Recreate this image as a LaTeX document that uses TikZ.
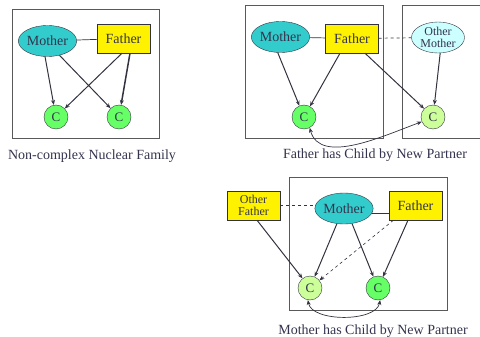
\documentclass[tikz,border=0pt]{standalone}
\usepackage{fontspec}
\setmainfont{Liberation Serif}
\usetikzlibrary{shapes.geometric,arrows.meta}

\definecolor{inkline}{RGB}{51,51,64}
\definecolor{inktext}{RGB}{51,51,77}
\definecolor{teal}{RGB}{51,204,204}
\definecolor{paleblue}{RGB}{204,255,255}
\definecolor{dkgreen}{RGB}{102,255,102}
\definecolor{ltgreen}{RGB}{204,255,153}

\begin{document}
\begin{tikzpicture}[x=1pt,y=-1pt,
	frame/.style={draw=black!65, line width=0.8pt},
	mum/.style={ellipse, draw=inkline, fill=teal, minimum width=53pt, minimum height=31pt, inner sep=0pt, text=inktext, font=\fontsize{14}{16}\selectfont},
	othermum/.style={mum, fill=paleblue, align=center, font=\fontsize{12}{12.5}\selectfont},
	dad/.style={rectangle, draw=inkline, fill=yellow, minimum width=53pt, minimum height=29pt, inner sep=0pt, text=inktext, font=\fontsize{14}{16}\selectfont},
	otherdad/.style={dad, align=center, font=\fontsize{12}{12.5}\selectfont},
	kid/.style={circle, draw=inkline, fill=dkgreen, minimum size=24pt, inner sep=0pt, text=inktext, font=\fontsize{13}{15}\selectfont},
	newkid/.style={kid, fill=ltgreen},
	tie/.style={draw=inkline, line width=0.7pt},
	pile/.style={draw=inkline, line width=1pt, -{Stealth[length=5pt,width=4pt]}},
	hint/.style={draw=inkline, line width=0.6pt, dashed, -{Stealth[length=5pt,width=4pt]}},
	twoway/.style={draw=inkline, line width=0.7pt, {Stealth[length=5pt,width=4pt]}-{Stealth[length=5pt,width=4pt]}},
	caption/.style={text=inktext, font=\fontsize{14}{16}\selectfont}]

	\useasboundingbox (0,0) rectangle (480,337);

	% Nuclear family
	\draw[frame] (12,9) rectangle (159,138);
	\node[mum] (mumA) at (47.5,41) {Mother};
	\node[dad] (dadA) at (123.5,38.5) {Father};
	\node[kid] (kidA1) at (56,117) {C};
	\node[kid] (kidA2) at (119,117) {C};
	\draw[tie] (mumA) -- (dadA);
	\draw[pile] (mumA.-99) -- (kidA1);
	\draw[pile] (mumA.-50) -- (kidA2);
	\draw[pile] ([xshift=-1.5pt]dadA.south) -- (kidA1);
	\draw[pile, line width=1.5pt] ([xshift=6.5pt]dadA.south) -- (kidA2);
	\node[caption] (capA) at (92,156) {Non-complex Nuclear Family};

	% Father has child by new partner
	\draw[frame] (245,5) rectangle (383,138);
	\draw[frame] (480,5) -- (402,5) -- (402,138) -- (480,138);
	\node[mum] (mumB) at (280.5,37) {Mother};
	\node[dad] (dadB) at (352,38.5) {Father};
	\node[othermum] (otherMum) at (438,37.5) {Other\\Mother};
	\node[kid] (kidB1) at (304,117) {C};
	\node[newkid] (kidB2) at (433,117) {C};
	\draw[tie] (mumB) -- (dadB);
	\draw[tie, dashed] (dadB) -- (otherMum);
	\draw[pile] (mumB.-100) -- (kidB1);
	\draw[pile] ([xshift=-12pt]dadB.south) -- (kidB1);
	\draw[pile] ([xshift=13pt]dadB.south) -- (kidB2);
	\draw[pile] (otherMum.-82) -- (kidB2);
	\draw[twoway] (kidB1.-62) to[out=-75, in=-160, looseness=0.9] (kidB2.-157);
	\node[caption] (capB) at (375,155) {Father has Child by New Partner};

	% Mother has child by new partner
	\draw[frame] (289,177) rectangle (447,310);
	\node[otherdad] (otherDad) at (253.5,205.5) {Other\\Father};
	\node[mum] (mumC) at (344,208.5) {Mother};
	\node[dad] (dadC) at (415.5,205.5) {Father};
	\node[newkid] (kidC1) at (310,288) {C};
	\node[kid] (kidC2) at (378,288) {C};
	\draw[tie, dashed] (otherDad.east) -- (otherDad.east -| mumC.west);
	\draw[tie] (mumC.-10) -- (mumC.-10 -| dadC.west);
	\draw[pile] ([xshift=3.5pt]otherDad.south) -- (kidC1);
	\draw[pile] (mumC.-115) -- (kidC1);
	\draw[pile] (mumC.-62) -- (kidC2);
	\draw[pile] ([xshift=-7.5pt]dadC.south) -- (kidC2);
	\draw[hint] ([xshift=-22pt]dadC.south) -- (kidC1);
	\draw[twoway] (kidC1.-100) to[out=-80, in=-100, looseness=0.8] (kidC2.-80);
	\node[caption] (capC) at (373,331) {Mother has Child by New Partner};

\end{tikzpicture}
\end{document}
